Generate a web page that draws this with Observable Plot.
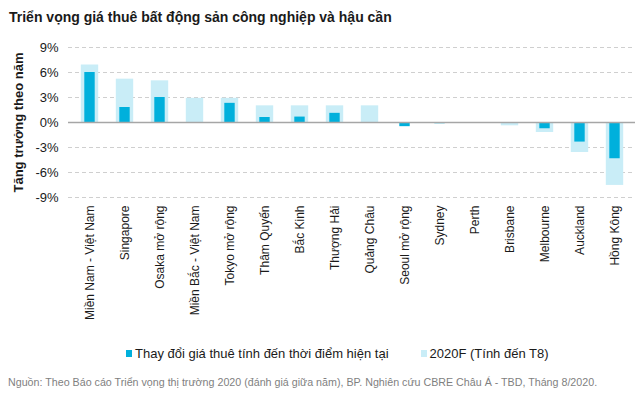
<!DOCTYPE html>
<html><head><meta charset="utf-8">
<script src="https://cdn.jsdelivr.net/npm/d3@7"></script>
<script src="https://cdn.jsdelivr.net/npm/@observablehq/plot@0.6"></script>
<style>
body{margin:0;background:#fff;font-family:"Liberation Sans",Arial,sans-serif;width:640px;height:395px;overflow:hidden}
#title{height:32px;box-sizing:border-box;padding:9px 0 0 9px;font-size:14px;font-weight:bold;color:#1a1a1a}
#chart svg{overflow:visible}
#legend{height:26px;display:flex;justify-content:flex-start;align-items:center;font-size:13px;color:#1a1a1a}
.sw{display:inline-block;width:6px;height:7px;margin-right:3px}
#caption{font-size:10.7px;color:#7f7f7f;padding-left:8px;margin-top:10px}
</style></head>
<body>
<div id="title">Triển vọng giá thuê bất động sản công nghiệp và hậu cần</div>
<div id="chart"></div>
<div id="legend">
  <span style="margin-left:126px" class="sw" id="sw1"></span><span>Thay đổi giá thuê tính đến thời điểm hiện tại</span>
  <span style="margin-left:32px" class="sw" id="sw2"></span><span>2020F (Tính đến T8)</span>
</div>
<div id="caption">Nguồn: Theo Báo cáo Triển vọng thị trường 2020 (đánh giá giữa năm), BP. Nghiên cứu CBRE Châu Á - TBD, Tháng 8/2020.</div>
<script>
const categories = ["Miền Nam - Việt Nam","Singapore","Osaka mở rộng","Miền Bắc - Việt Nam","Tokyo mở rộng","Thâm Quyến","Bắc Kinh","Thượng Hải","Quảng Châu","Seoul mở rộng","Sydney","Perth","Brisbane","Melbourne","Auckland","Hồng Kông"];
const currentChange = [6.0, 1.8, 3.0, 0, 2.3, 0.6, 0.65, 1.1, 0, -0.5, -0.15, -0.05, 0, -0.75, -2.35, -4.35];
const forecast2020 = [6.9, 5.2, 5.0, 2.9, 2.9, 2.0, 2.0, 2.0, 2.0, 0, -0.1, -0.1, -0.4, -1.2, -3.6, -7.55];
const yTicks = [-9, -6, -3, 0, 3, 6, 9];
const seriesNames = ["Thay đổi giá thuê tính đến thời điểm hiện tại", "2020F (Tính đến T8)"];
const yLabel = "Tăng trưởng theo năm";

const darkColor = "#00b0dc";
const lightColor = "#c9edf7";
document.getElementById("sw1").style.background = darkColor;
document.getElementById("sw2").style.background = lightColor;

const rows = categories.map((c, i) => ({city: c, cur: currentChange[i], fc: forecast2020[i]}));

const chart = Plot.plot({
  width: 640,
  height: 308,
  marginTop: 15,
  marginBottom: 143,
  marginLeft: 68,
  marginRight: 5,
  style: {fontFamily: "Liberation Sans, Arial, sans-serif", color: "#1a1a1a", overflow: "visible"},
  x: {domain: categories, padding: 0},
  y: {domain: [-9, 9]},
  marks: [
    Plot.ruleY(yTicks.filter(d => d !== 0), {stroke: "#cfcfcf", strokeDasharray: "4,3", strokeWidth: 1}),
    Plot.barY(rows, {x: "city", y: "fc", fill: lightColor, insetLeft: 8.8, insetRight: 8.8}),
    Plot.barY(rows, {x: "city", y: "cur", fill: darkColor, insetLeft: 12.3, insetRight: 12.3}),
    Plot.ruleY([0], {stroke: "#a6a6a6", strokeWidth: 1.5}),
    Plot.axisY({ticks: yTicks, tickFormat: d => d + "%", tickSize: 0, tickPadding: 10, fontSize: 13, label: null}),
    Plot.axisX({tickRotate: -90, tickSize: 0, tickPadding: 8, fontSize: 12, label: null}),
    Plot.text([yLabel], {frameAnchor: "left", dx: -50, rotate: -90, textAnchor: "middle", fontWeight: "bold", fontSize: 13, fill: "#1a1a1a"})
  ]
});
document.getElementById("chart").appendChild(chart);
</script>
</body></html>
